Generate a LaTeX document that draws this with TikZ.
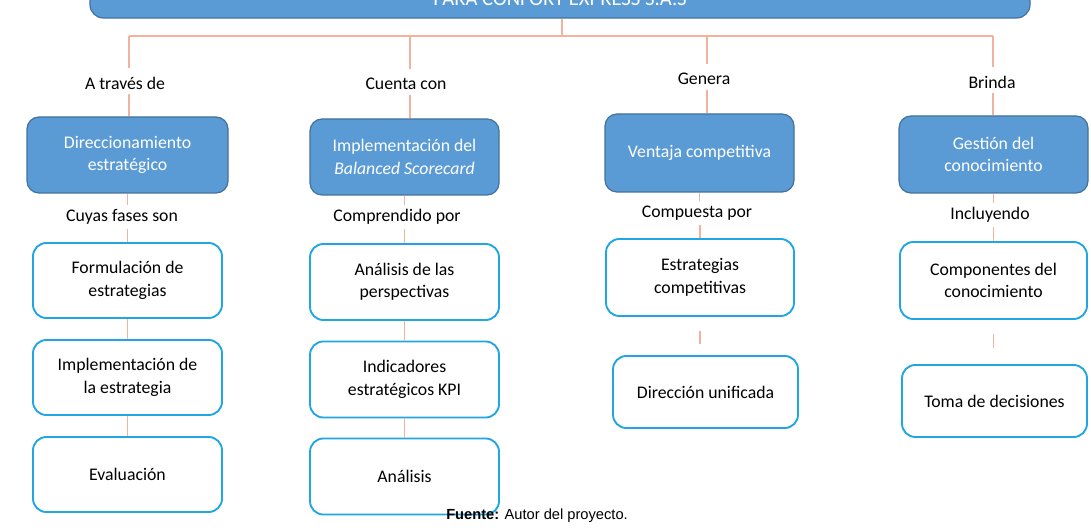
\documentclass[tikz,border=0pt]{standalone}
\usepackage{fontspec}
\setmainfont{Carlito}
\newfontfamily\arialf{Liberation Sans}
\definecolor{lvlfill}{RGB}{91,155,213}
\definecolor{lvldraw}{RGB}{65,113,156}
\definecolor{subdraw}{RGB}{32,166,226}
\definecolor{conn}{RGB}{242,178,156}
\begin{document}
\begin{tikzpicture}[x=0.75pt,y=-0.75pt,
  lvl/.style={draw=lvldraw,line width=0.9pt,fill=lvlfill,rounded corners=9pt,inner sep=0pt,align=center,text=white,font=\fontsize{13.3}{16.8}\selectfont},
  sub/.style={draw=subdraw,line width=1.4pt,fill=white,rounded corners=10pt,inner sep=0pt,align=center,text=black,font=\fontsize{13.3}{16.8}\selectfont},
  lab/.style={text=black,font=\fontsize{13.3}{15}\selectfont},
  cn/.style={draw=conn,line width=0.8pt}]
\clip (0,0) rectangle (1091,530);
\fill[white] (0,0) rectangle (1091,530);
% top box
\node[lvl,minimum width=705pt,minimum height=28.5pt,rounded corners=10pt,font=\fontsize{15.5}{18}\selectfont] (top) at (560,-1) {PARA CONFORT EXPRESS S.A.S};
\coordinate (hub) at (562,36);
\coordinate (h1) at (129,36);
\coordinate (h2) at (410,36);
\coordinate (h3) at (707,36);
\coordinate (h4) at (993,36);
% labels level 0
\node[lab] (l1) at (125,83) {A través de};
\node[lab] (l2) at (406,84) {Cuenta con};
\node[lab] (l3) at (704,79) {Genera};
\node[lab] (l4) at (992,82) {Brinda};
% level 1 boxes
\node[lvl,minimum width=150.75pt,minimum height=57pt] (d1) at (127.5,155) {Direccionamiento\\estratégico};
\node[lvl,minimum width=141.75pt,minimum height=57pt] (d2) at (404.5,157) {Implementación del\\\textit{Balanced Scorecard}};
\node[lvl,minimum width=141.75pt,minimum height=58.5pt] (d3) at (699.5,153) {Ventaja competitiva};
\node[lvl,minimum width=141.75pt,minimum height=57.75pt] (d4) at (993.5,154.5) {Gestión del\\conocimiento};
% labels level 1
\node[lab] (m1) at (122,217) {Cuyas fases son};
\node[lab] (m2) at (397,217) {Comprendido por};
\node[lab] (m3) at (697,213) {Compuesta por};
\node[lab] (m4) at (990,215) {Incluyendo};
% level 2 boxes
\node[sub,minimum width=141.75pt,minimum height=56.25pt] (a1) at (127.5,280.5) {Formulación de\\estrategias};
\node[sub,minimum width=141.75pt,minimum height=56.25pt] (a2) at (127.5,377.5) {Implementación de\\la estrategia};
\node[sub,minimum width=141.75pt,minimum height=56.25pt] (a3) at (127.5,474.5) {Evaluación};
\node[sub,minimum width=141.75pt,minimum height=57pt] (b1) at (404.5,282) {Análisis de las\\perspectivas};
\node[sub,minimum width=141.75pt,minimum height=57pt] (b2) at (404.5,379.5) {Indicadores\\estratégicos KPI};
\node[sub,minimum width=141.75pt,minimum height=57pt] (b3) at (404.5,476.5) {Análisis};
\node[sub,minimum width=141pt,minimum height=57.75pt] (c1) at (700,277.5) {Estrategias\\competitivas};
\node[sub,minimum width=138.75pt,minimum height=54pt] (c2) at (705.5,392) {Dirección unificada};
\node[sub,minimum width=140.25pt,minimum height=57.75pt] (e1) at (993.5,280.5) {Componentes del\\conocimiento};
\node[sub,minimum width=138.75pt,minimum height=54pt] (e2) at (994.5,401) {Toma de decisiones};
% caption
\node[font=\arialf\fontsize{11}{13}\selectfont] (cap) at (537,516) {\textbf{Fuente:} Autor del proyecto.};
% connectors
\draw[cn] (top.south -| hub) -- (hub);
\draw[cn] (h1) -- (h4);
\draw[cn] (h1) -- ([yshift=3pt]h1 |- l1.north);
\draw[cn] (h2) -- ([yshift=3pt]h2 |- l2.north);
\draw[cn] (h3) -- ([yshift=3pt]h3 |- l3.north);
\draw[cn] (h4) -- ([yshift=3pt]h4 |- l4.north);
\draw[cn] (l1.south -| h1) -- (d1.north -| h1);
\draw[cn] (l2.south -| h2) -- (d2.north -| h2);
\draw[cn] (l3.south -| h3) -- (d3.north -| h3);
\draw[cn] (l4.south -| h4) -- (d4.north -| h4);
\draw[cn] (d1.south) -- (d1.south |- m1.north);
\draw[cn] (d2.south) -- (d2.south |- m2.north);
\draw[cn] (d3.south) -- (d3.south |- m3.north);
\draw[cn] (d4.south) -- (d4.south |- m4.north);
\draw[cn] (a1.north |- m1.south) -- (a1.north);
\draw[cn] (b1.north |- m2.south) -- (b1.north);
\draw[cn] (c1.north |- m3.south) -- (c1.north);
\draw[cn] (e1.north |- m4.south) -- (e1.north);
\draw[cn] (a1) -- (a2);
\draw[cn] (a2) -- (a3);
\draw[cn] (b1) -- (b2);
\draw[cn] (b2) -- (b3);
\draw[cn,shorten <=10.5pt,shorten >=8pt] (c1.south) -- (c1.south |- c2.north);
\draw[cn,shorten <=10.5pt,shorten >=12pt] (e1.south) -- (e1.south |- e2.north);
\end{tikzpicture}
\end{document}
